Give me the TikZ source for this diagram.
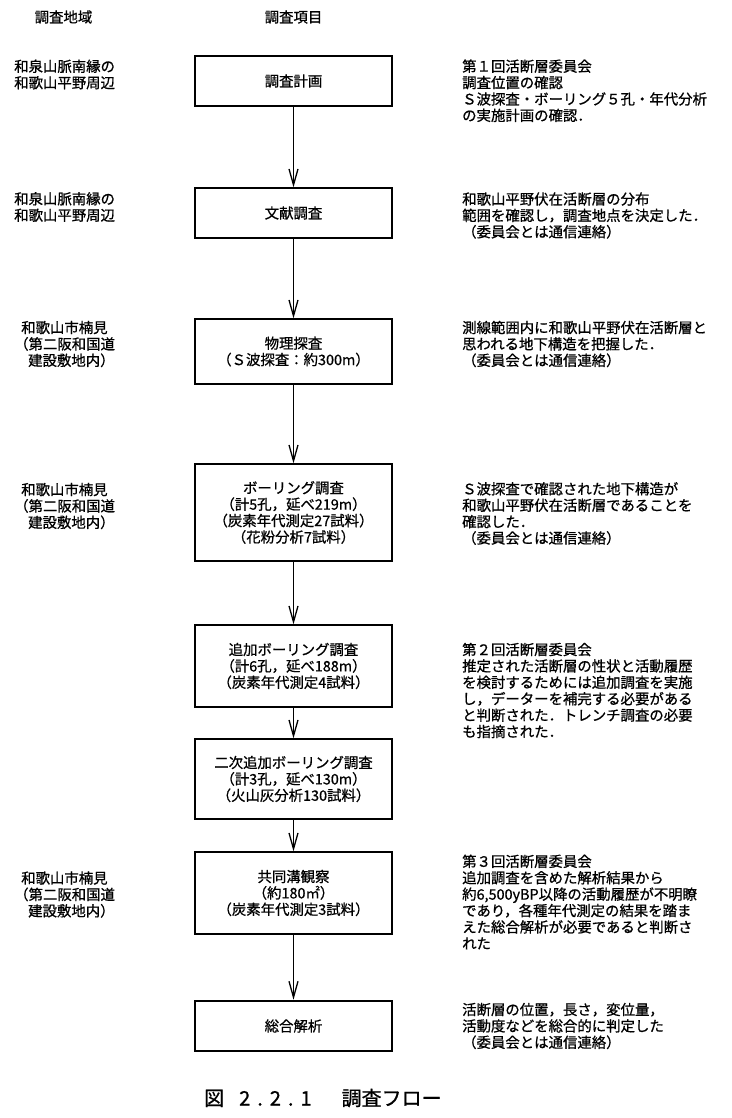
\documentclass[tikz,border=0pt]{standalone}
\usepackage{fontspec}
\setmainfont{Noto Sans CJK JP}[UprightFeatures={FakeBold=0.8}]
\usetikzlibrary{arrows.meta}
\tikzset{
    stepbox/.style={draw, rectangle, line width=1.3pt, minimum width=197pt, inner sep=0pt, align=center},
    note/.style={anchor=west, inner sep=0pt, align=left},
    flow/.style={line width=1.3pt, -{Straight Barb[length=16pt,width=9pt]}}
}
\begin{document}
\begin{tikzpicture}[x=1pt, y=-1pt]
    \fontsize{14.4}{16.4}\selectfont
    \useasboundingbox (0,0) rectangle (731,1118);
    \node (area) at (63.5,17) {調査地域};
    \node (item) at (293.5,17) {調査項目};

    \node[stepbox, minimum height=50pt] (plan) at (293.5,81) {調査計画};
    \node[stepbox, minimum height=50pt] (lit) at (293.5,213) {文献調査};
    \node[stepbox, minimum height=65pt] (phys) at (293.5,351.5) {物理探査\\（Ｓ波探査：約300m）};
    \node[stepbox, minimum height=97pt] (bore) at (293.5,512.5)
      {ボーリング調査\\（計5孔，延べ219m）\\（炭素年代測定27試料）\\（花粉分析7試料）};
    \node[stepbox, minimum height=82pt] (addbore) at (293.5,666)
      {追加ボーリング調査\\（計6孔，延べ188m）\\（炭素年代測定4試料）};
    \node[stepbox, minimum height=80pt] (secbore) at (293.5,779)
      {二次追加ボーリング調査\\（計3孔，延べ130m）\\（火山灰分析130試料）};
    \node[stepbox, minimum height=82pt] (trench) at (293.5,893)
      {共同溝観察\\（約180㎡）\\（炭素年代測定3試料）};
    \node[stepbox, minimum height=50pt, line width=2.6pt] (total) at (293.5,1026) {総合解析};

    \draw[flow] (plan) -- (lit);
    \draw[flow] (lit) -- (phys);
    \draw[flow] (phys) -- (bore);
    \draw[flow] (bore) -- (addbore);
    \draw[flow] (addbore) -- (secbore);
    \draw[flow] (secbore) -- (trench);
    \draw[flow] (trench) -- (total);

    \node[note] (area1) at (14,74.5) {和泉山脈南縁の\\和歌山平野周辺};
    \node[note] (area2) at (14,207) {和泉山脈南縁の\\和歌山平野周辺};
    \node[note] (area3) at (14,344)
      {\hspace*{7pt}和歌山市楠見\\（第二阪和国道\\\hspace*{14pt}建設敷地内）};
    \node[note] (area4) at (14,506)
      {\hspace*{7pt}和歌山市楠見\\（第二阪和国道\\\hspace*{14pt}建設敷地内）};
    \node[note] (area5) at (14,894.5)
      {\hspace*{7pt}和歌山市楠見\\（第二阪和国道\\\hspace*{14pt}建設敷地内）};

    \node[note] (memo1) at (462,90.75)
      {第１回活断層委員会\\調査位置の確認\\Ｓ波探査・ボーリング５孔・年代分析\\の実施計画の確認．};
    \node[note] (memo2) at (462,215.5)
      {和歌山平野伏在活断層の分布\\範囲を確認し，調査地点を決定した．\\（委員会とは通信連絡）};
    \node[note] (memo3) at (462,344)
      {測線範囲内に和歌山平野伏在活断層と\\思われる地下構造を把握した．\\（委員会とは通信連絡）};
    \node[note] (memo4) at (462,513.5)
      {Ｓ波探査で確認された地下構造が\\和歌山平野伏在活断層であることを\\確認した．\\（委員会とは通信連絡）};
    \node[note] (memo5) at (462,690.5)
      {第２回活断層委員会\\推定された活断層の性状と活動履歴\\を検討するためには追加調査を実施\\し，データーを補完する必要がある\\と判断された．トレンチ調査の必要\\も指摘された．};
    \node[note] (memo6) at (462,902)
      {第３回活断層委員会\\追加調査を含めた解析結果から\\約6,500yBP以降の活動履歴が不明瞭\\であり，各種年代測定の結果を踏ま\\えた総合解析が必要であると判断さ\\れた};
    \node[note] (memo7) at (462,1026)
      {活断層の位置，長さ，変位量，\\活動度などを総合的に判定した\\（委員会とは通信連絡）};

    \node[anchor=west, inner sep=0pt, font=\fontsize{20}{24}\selectfont] (caption) at (204,1098)
      {図\hspace{15pt}2\hspace{7pt}.\hspace{7pt}2\hspace{7pt}.\hspace{7pt}1\hspace{30pt}調査フロー};
\end{tikzpicture}
\end{document}
